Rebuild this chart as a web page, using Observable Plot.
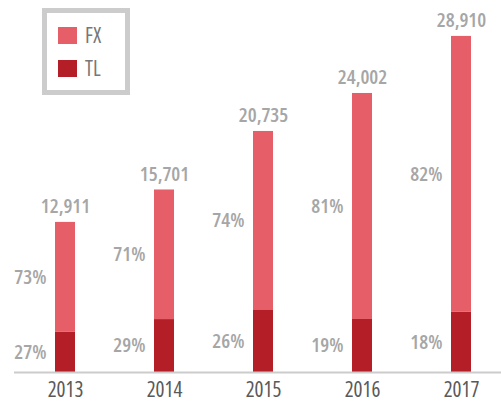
<!DOCTYPE html>
<html>
<head>
<meta charset="utf-8">
<script src="https://cdn.jsdelivr.net/npm/d3@7"></script>
<script src="https://cdn.jsdelivr.net/npm/@observablehq/plot@0.6"></script>
<style>
  html, body { margin: 0; padding: 0; background: #fff; }
  #wrap { position: relative; width: 501px; height: 402px; overflow: hidden; font-family: "Open Sans", sans-serif; font-stretch: condensed; }
  #chart svg, #chart svg text { font-stretch: condensed; }
  #legend { position: absolute; left: 42px; top: 8px; width: 78px; height: 77px; border: 5px solid #cccccc; background: #fff; }
  .item { position: absolute; left: 11px; height: 17px; display: flex; align-items: center; }
  .sw { width: 19px; height: 17px; margin-right: 8px; flex: none; }
  .lab { font-size: 21px; color: #777777; line-height: 17px; font-stretch: condensed; }
</style>
</head>
<body>
<div id="wrap">
  <div id="chart"></div>
  <div id="legend"></div>
</div>
<script>
const years = ["2013", "2014", "2015", "2016", "2017"];
const totals = [12911, 15701, 20735, 24002, 28910];
const tlPct = [27, 29, 26, 19, 18];
const fxPct = [73, 71, 74, 81, 82];
const series = ["TL", "FX"];
const colors = {FX: "#e65f68", TL: "#b41f27"};
const legendOrder = ["FX", "TL"];

const rows = [];
years.forEach((y, i) => {
  rows.push({year: y, type: "TL", value: totals[i] * tlPct[i] / 100});
  rows.push({year: y, type: "FX", value: totals[i] * fxPct[i] / 100});
});
const labels = [];
years.forEach((y, i) => {
  const tl = totals[i] * tlPct[i] / 100;
  const fx = totals[i] * fxPct[i] / 100;
  labels.push({year: y, pos: tl / 2, text: tlPct[i] + "%"});
  labels.push({year: y, pos: tl + fx / 2, text: fxPct[i] + "%"});
});
const totalRows = years.map((y, i) => ({year: y, total: totals[i], text: d3.format(",")(totals[i])}));

const chart = Plot.plot({
  width: 501,
  height: 402,
  marginTop: 0,
  marginBottom: 30,
  marginLeft: 14,
  marginRight: 0,
  style: {fontFamily: '"Open Sans", sans-serif', background: "#fff"},
  x: {domain: years, range: [14, 511], paddingInner: 0.8, paddingOuter: 0.404, label: null},
  y: {domain: [0, 32000], axis: null},
  color: {domain: series, range: series.map(s => colors[s])},
  marks: [
    Plot.barY(rows, {x: "year", y: "value", fill: "type", order: series}),
    Plot.ruleY([0], {stroke: "#cccccc", strokeWidth: 2}),
    Plot.axisX({tickSize: 0, tickPadding: 10, fontSize: 21, fill: "#595959", label: null}),
    Plot.text(totalRows, {x: "year", y: "total", text: "text", lineAnchor: "bottom", dy: -9, fontSize: 20, fontWeight: 600, fill: "#a6a6a6"}),
    Plot.text(labels, {x: "year", y: "pos", text: "text", dx: -19, textAnchor: "end", fontSize: 20, fontWeight: 600, fill: "#a6a6a6"})
  ]
});
document.getElementById("chart").appendChild(chart);

const lg = document.getElementById("legend");
legendOrder.forEach((s, i) => {
  const it = document.createElement("div");
  it.className = "item";
  it.style.top = (14 + i * 33) + "px";
  it.innerHTML = `<span class="sw" style="background:${colors[s]}"></span><span class="lab">${s}</span>`;
  lg.appendChild(it);
});
</script>
</body>
</html>
